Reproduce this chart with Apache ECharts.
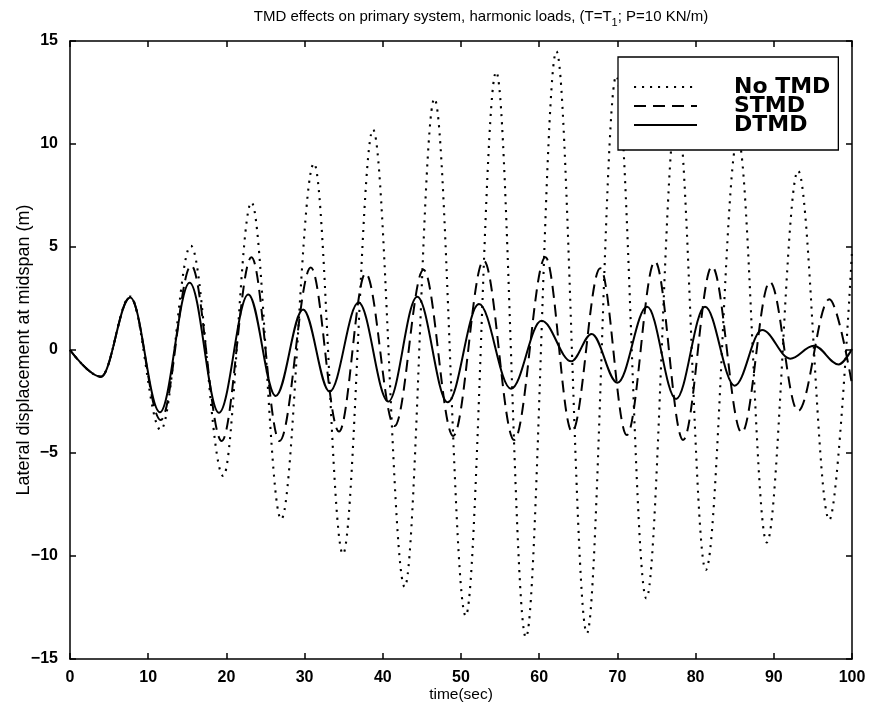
<!DOCTYPE html>
<html>
<head>
<meta charset="utf-8">
<script src="https://cdn.jsdelivr.net/npm/echarts@6/dist/echarts.min.js"></script>
<style>
  html, body { margin: 0; padding: 0; background: #fff; }
  #chart { width: 870px; height: 710px; }
</style>
</head>
<body>
<div id="chart"></div>
<script>
// Turning points (time in s, displacement in m) of each response history
const noTmdT = [0, 3.95, 7.7, 11.6, 15.45, 19.6, 23.2, 27.0, 31.2, 34.9, 38.75, 42.8, 46.6, 50.6, 54.5, 58.3, 62.2, 66.1, 69.85, 73.7, 77.6, 81.3, 85.4, 89.1, 93.1, 97.1, 100];
const noTmdV = [0, -1.3, 2.6, -3.88, 5.06, -6.12, 7.17, -8.22, 9.06, -9.9, 10.7, -11.5, 12.2, -12.9, 13.5, -13.95, 14.5, -13.75, 13.3, -12.06, 11.8, -10.68, 10.3, -9.34, 8.7, -8.25, 4.8];

const stmdT = [0, 3.95, 7.7, 11.6, 15.5, 19.4, 23.2, 26.8, 30.8, 34.4, 37.8, 41.5, 45.2, 49.0, 52.9, 56.8, 60.8, 64.2, 67.8, 71.2, 74.8, 78.4, 82.1, 85.9, 89.5, 93.1, 97.1, 100];
const stmdV = [0, -1.3, 2.55, -3.4, 4.1, -4.42, 4.5, -4.42, 4.0, -3.96, 3.72, -3.69, 3.9, -4.17, 4.34, -4.37, 4.5, -3.96, 3.97, -4.13, 4.3, -4.37, 4.05, -4.01, 3.3, -2.96, 2.46, -1.67];

const dtmdT = [0, 3.95, 7.7, 11.5, 15.3, 19.05, 22.8, 26.3, 29.8, 33.2, 36.9, 40.7, 44.4, 48.3, 52.3, 56.4, 60.3, 64.1, 66.7, 70.0, 73.8, 77.5, 81.2, 85.0, 88.5, 92.1, 95.1, 98.3, 100];
const dtmdV = [0, -1.3, 2.55, -3.02, 3.27, -3.05, 2.7, -2.23, 1.97, -2.02, 2.3, -2.5, 2.59, -2.54, 2.23, -1.88, 1.42, -0.55, 0.78, -1.59, 2.1, -2.38, 2.1, -1.73, 0.97, -0.42, 0.21, -0.7, 0.05];

const seriesNames = ['No TMD', 'STMD', 'DTMD'];

const FONT = '"Liberation Sans", Arial, Helvetica, sans-serif';
const WIDE_FONT = '"DejaVu Sans", "Liberation Sans", sans-serif';
const pairs = (ts, vs) => ts.map((t, i) => [t, vs[i]]);
const minusFmt = v => (v < 0 ? '\u2212' + Math.abs(v) : String(v));

const frameAxis = {
  axisLine: { show: true, onZero: false, lineStyle: { color: '#000', width: 1.5 } },
  axisTick: { show: true, inside: true, length: 6, lineStyle: { color: '#000', width: 1.5 } },
  splitLine: { show: false }
};

const baseLine = {
  type: 'line',
  symbol: 'none',
  showSymbol: false,
  smooth: 0.36,
  smoothMonotone: 'x',
  color: '#000',
  animation: false
};

const chart = echarts.init(document.getElementById('chart'), null, { renderer: 'canvas' });
chart.setOption({
  backgroundColor: '#fff',
  animation: false,
  color: ['#000', '#000', '#000'],
  title: {
    text: 'TMD effects on primary system, harmonic loads, (T=T{s|1}; P=10 KN/m)',
    left: 476,
    top: 0,
    textAlign: 'center',
    textStyle: {
      fontFamily: FONT, fontSize: 15, fontWeight: 'normal', color: '#000',
      rich: { s: { fontFamily: FONT, fontSize: 11, color: '#000', padding: [12, 0, 0, 0] } }
    }
  },
  grid: { left: 70, right: 18, top: 41, bottom: 51, containLabel: false, outerBoundsMode: 'none' },
  legend: {
    data: seriesNames,
    orient: 'vertical',
    left: 618,
    top: 57,
    padding: [19, 8, 14, 15],
    itemWidth: 63,
    itemHeight: 14,
    itemGap: -3,
    borderColor: '#000',
    borderWidth: 1.3,
    backgroundColor: '#fff',
    itemStyle: { color: 'transparent', borderColor: 'transparent', borderWidth: 0, opacity: 0 },
    textStyle: { fontFamily: WIDE_FONT, fontSize: 22, fontWeight: 'bold', color: '#000', lineHeight: 19, padding: [0, 0, 0, 32] }
  },
  xAxis: [
    Object.assign({
      type: 'value', min: 0, max: 100, interval: 10, position: 'bottom',
      name: 'time(sec)', nameLocation: 'middle', nameGap: 28, nameMoveOverlap: false,
      nameTextStyle: { fontFamily: FONT, fontSize: 15.5, color: '#000' },
      axisLabel: { color: '#000', fontFamily: FONT, fontSize: 16, fontWeight: 'bold', margin: 11 }
    }, frameAxis),
    Object.assign({
      type: 'value', min: 0, max: 100, interval: 10, position: 'top',
      axisLabel: { show: false }
    }, frameAxis)
  ],
  yAxis: [
    Object.assign({
      type: 'value', min: -15, max: 15, interval: 5, position: 'left',
      name: 'Lateral displacement at midspan (m)', nameLocation: 'middle', nameGap: 37, nameMoveOverlap: false,
      nameTextStyle: { fontFamily: FONT, fontSize: 18, color: '#000' },
      axisLabel: { color: '#000', fontFamily: FONT, fontSize: 16, fontWeight: 'bold', margin: 12, formatter: minusFmt }
    }, frameAxis),
    Object.assign({
      type: 'value', min: -15, max: 15, interval: 5, position: 'right',
      axisLabel: { show: false }
    }, frameAxis)
  ],
  series: [
    Object.assign({}, baseLine, {
      name: seriesNames[0], xAxisIndex: 0, yAxisIndex: 0,
      data: pairs(noTmdT, noTmdV),
      lineStyle: { color: '#000', width: 2.1, type: [2.1, 5.9], cap: 'butt' }
    }),
    Object.assign({}, baseLine, {
      name: seriesNames[1], xAxisIndex: 0, yAxisIndex: 0,
      data: pairs(stmdT, stmdV),
      lineStyle: { color: '#000', width: 2, type: [12, 7], cap: 'butt' }
    }),
    Object.assign({}, baseLine, {
      name: seriesNames[2], xAxisIndex: 0, yAxisIndex: 0,
      data: pairs(dtmdT, dtmdV),
      lineStyle: { color: '#000', width: 2, type: 'solid' }
    })
  ]
});
</script>
</body>
</html>
